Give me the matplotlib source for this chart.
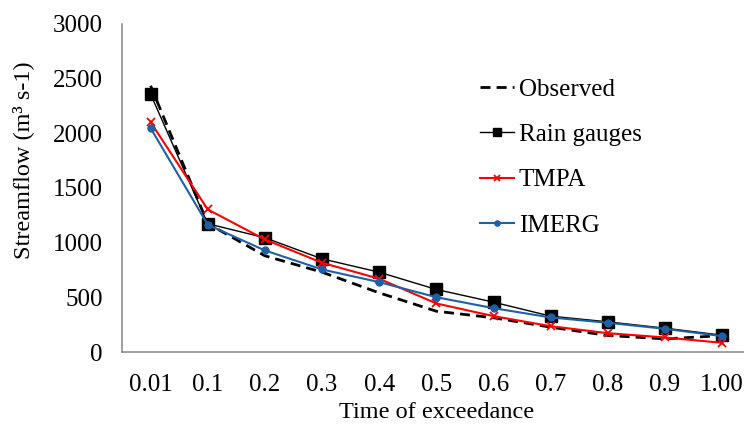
import matplotlib
matplotlib.use("Agg")
import matplotlib.pyplot as plt

categories = ["0.01", "0.1", "0.2", "0.3", "0.4", "0.5", "0.6", "0.7", "0.8", "0.9", "1.00"]
observed = [2435, 1175, 880, 730, 541, 373, 313, 227, 151, 120, 150]
rain_gauges = [2358, 1173, 1045, 852, 730, 572, 456, 328, 276, 218, 154]
tmpa = [2102, 1304, 1029, 816, 670, 444, 328, 236, 172, 133, 84]
imerg = [2048, 1164, 929, 755, 639, 501, 401, 316, 267, 212, 145]
y_ticks = [0, 500, 1000, 1500, 2000, 2500, 3000]

plt.rcParams['font.family'] = ['Liberation Serif', 'DejaVu Serif']

fig = plt.figure(figsize=(7.44, 4.26), dpi=100)
ax = fig.add_axes([0.164, 0.1737, 0.845, 0.770])
x = list(range(len(categories)))

ax.plot(x, observed, color='black', linestyle=(0, (3.6, 2.2)), linewidth=2.0, label='Observed')
ax.plot(x, rain_gauges, color='black', linewidth=1.0, marker='s', markersize=8.5, label='Rain gauges')
ax.plot(x, tmpa, color='#ff0000', linewidth=1.5, marker='x', markersize=5.5, markeredgewidth=1.3, label='TMPA')
ax.plot(x, imerg, color='#1f5fa6', linewidth=1.5, marker='o', markersize=5, label='IMERG')

ax.set_xlim(-0.5, len(categories) - 0.5)
ax.set_ylim(0, 3000)
ax.set_xticks(x)
ax.set_xticklabels(categories)
ax.set_yticks(y_ticks)
ax.tick_params(axis='both', length=0, labelsize=18)
ax.tick_params(axis='x', pad=16)
ax.tick_params(axis='y', pad=14)

for s in ['top', 'right']:
    ax.spines[s].set_visible(False)
for s in ['left', 'bottom']:
    ax.spines[s].set_color('#868686')
    ax.spines[s].set_linewidth(1.1)

ax.set_xlabel('Time of exceedance', fontsize=17.5, labelpad=4)
ax.set_ylabel('Streamflow (m³ s-1)', fontsize=17.5, va='center')
ax.yaxis.set_label_coords(-0.157, 0.585)

leg = ax.legend(loc='upper left', bbox_to_anchor=(480 / 744, 1 - 78 / 426),
                bbox_transform=fig.transFigure, frameon=False, fontsize=18,
                borderpad=0, borderaxespad=0,
                handlelength=1.35, handletextpad=0.2, labelspacing=0.92, markerscale=0.75)

fig.savefig('out.png', dpi=100)
